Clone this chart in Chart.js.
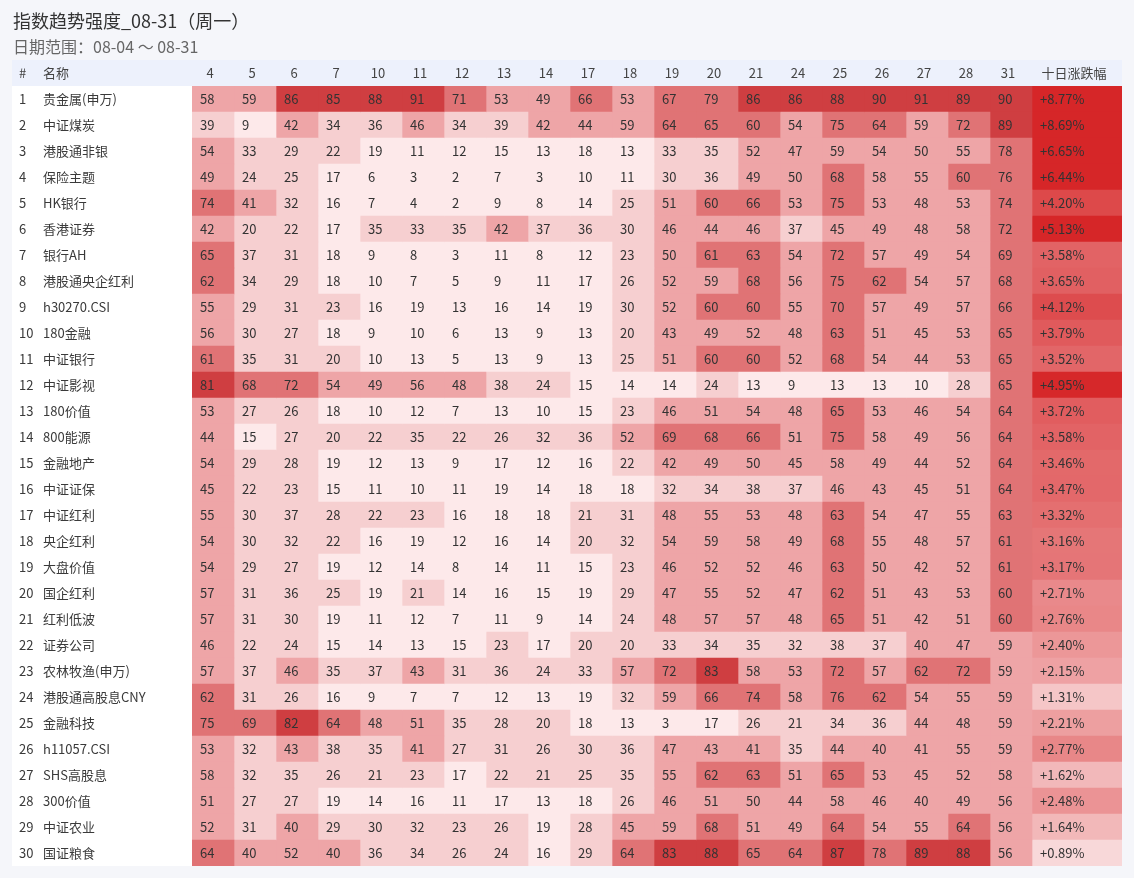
<!DOCTYPE html>
<html lang="zh-CN">
<head>
<meta charset="utf-8">
<title>指数趋势强度_08-31（周一）</title>
<script src="https://cdn.jsdelivr.net/npm/chart.js@4/dist/chart.umd.min.js"></script>
<style>
  html, body { margin: 0; padding: 0; background: #f5f6fa; }
  #wrap { width: 1134px; height: 878px; }
</style>
</head>
<body>
<div id="wrap"><canvas id="heat" width="1134" height="878"></canvas></div>
<script>
// column headers (trading days of August)
const dayLabels = ["4", "5", "6", "7", "10", "11", "12", "13", "14", "17",
                   "18", "19", "20", "21", "24", "25", "26", "27", "28", "31"];
const changeHeader = "十日涨跌幅";

const indexNames = [
  "贵金属(申万)", "中证煤炭", "港股通非银", "保险主题", "HK银行",
  "香港证券", "银行AH", "港股通央企红利", "h30270.CSI", "180金融",
  "中证银行", "中证影视", "180价值", "800能源", "金融地产",
  "中证证保", "中证红利", "央企红利", "大盘价值", "国企红利",
  "红利低波", "证券公司", "农林牧渔(申万)", "港股通高股息CNY", "金融科技",
  "h11057.CSI", "SHS高股息", "300价值", "中证农业", "国证粮食"
];

// trend strength per index, one row per index, one value per day
const trendScores = [
  [58, 59, 86, 85, 88, 91, 71, 53, 49, 66, 53, 67, 79, 86, 86, 88, 90, 91, 89, 90],
  [39, 9, 42, 34, 36, 46, 34, 39, 42, 44, 59, 64, 65, 60, 54, 75, 64, 59, 72, 89],
  [54, 33, 29, 22, 19, 11, 12, 15, 13, 18, 13, 33, 35, 52, 47, 59, 54, 50, 55, 78],
  [49, 24, 25, 17, 6, 3, 2, 7, 3, 10, 11, 30, 36, 49, 50, 68, 58, 55, 60, 76],
  [74, 41, 32, 16, 7, 4, 2, 9, 8, 14, 25, 51, 60, 66, 53, 75, 53, 48, 53, 74],
  [42, 20, 22, 17, 35, 33, 35, 42, 37, 36, 30, 46, 44, 46, 37, 45, 49, 48, 58, 72],
  [65, 37, 31, 18, 9, 8, 3, 11, 8, 12, 23, 50, 61, 63, 54, 72, 57, 49, 54, 69],
  [62, 34, 29, 18, 10, 7, 5, 9, 11, 17, 26, 52, 59, 68, 56, 75, 62, 54, 57, 68],
  [55, 29, 31, 23, 16, 19, 13, 16, 14, 19, 30, 52, 60, 60, 55, 70, 57, 49, 57, 66],
  [56, 30, 27, 18, 9, 10, 6, 13, 9, 13, 20, 43, 49, 52, 48, 63, 51, 45, 53, 65],
  [61, 35, 31, 20, 10, 13, 5, 13, 9, 13, 25, 51, 60, 60, 52, 68, 54, 44, 53, 65],
  [81, 68, 72, 54, 49, 56, 48, 38, 24, 15, 14, 14, 24, 13, 9, 13, 13, 10, 28, 65],
  [53, 27, 26, 18, 10, 12, 7, 13, 10, 15, 23, 46, 51, 54, 48, 65, 53, 46, 54, 64],
  [44, 15, 27, 20, 22, 35, 22, 26, 32, 36, 52, 69, 68, 66, 51, 75, 58, 49, 56, 64],
  [54, 29, 28, 19, 12, 13, 9, 17, 12, 16, 22, 42, 49, 50, 45, 58, 49, 44, 52, 64],
  [45, 22, 23, 15, 11, 10, 11, 19, 14, 18, 18, 32, 34, 38, 37, 46, 43, 45, 51, 64],
  [55, 30, 37, 28, 22, 23, 16, 18, 18, 21, 31, 48, 55, 53, 48, 63, 54, 47, 55, 63],
  [54, 30, 32, 22, 16, 19, 12, 16, 14, 20, 32, 54, 59, 58, 49, 68, 55, 48, 57, 61],
  [54, 29, 27, 19, 12, 14, 8, 14, 11, 15, 23, 46, 52, 52, 46, 63, 50, 42, 52, 61],
  [57, 31, 36, 25, 19, 21, 14, 16, 15, 19, 29, 47, 55, 52, 47, 62, 51, 43, 53, 60],
  [57, 31, 30, 19, 11, 12, 7, 11, 9, 14, 24, 48, 57, 57, 48, 65, 51, 42, 51, 60],
  [46, 22, 24, 15, 14, 13, 15, 23, 17, 20, 20, 33, 34, 35, 32, 38, 37, 40, 47, 59],
  [57, 37, 46, 35, 37, 43, 31, 36, 24, 33, 57, 72, 83, 58, 53, 72, 57, 62, 72, 59],
  [62, 31, 26, 16, 9, 7, 7, 12, 13, 19, 32, 59, 66, 74, 58, 76, 62, 54, 55, 59],
  [75, 69, 82, 64, 48, 51, 35, 28, 20, 18, 13, 3, 17, 26, 21, 34, 36, 44, 48, 59],
  [53, 32, 43, 38, 35, 41, 27, 31, 26, 30, 36, 47, 43, 41, 35, 44, 40, 41, 55, 59],
  [58, 32, 35, 26, 21, 23, 17, 22, 21, 25, 35, 55, 62, 63, 51, 65, 53, 45, 52, 58],
  [51, 27, 27, 19, 14, 16, 11, 17, 13, 18, 26, 46, 51, 50, 44, 58, 46, 40, 49, 56],
  [52, 31, 40, 29, 30, 32, 23, 26, 19, 28, 45, 59, 68, 51, 49, 64, 54, 55, 64, 56],
  [64, 40, 52, 40, 36, 34, 26, 24, 16, 29, 64, 83, 88, 65, 64, 87, 78, 89, 88, 56]
];

// ten day change in percent
const tenDayChange = [
  8.77, 8.69, 6.65, 6.44, 4.20, 5.13, 3.58, 3.65, 4.12, 3.79,
  3.52, 4.95, 3.72, 3.58, 3.46, 3.47, 3.32, 3.16, 3.17, 2.71,
  2.76, 2.40, 2.15, 1.31, 2.21, 2.77, 1.62, 2.48, 1.64, 0.89
];

const TITLE = "指数趋势强度_08-31（周一）";
const SUBTITLE = "日期范围：08-04 ～ 08-31";
const FONT = "'Noto Sans CJK SC', 'Noto Sans', sans-serif";

// the change column is wider than a day column (90px vs 42px)
const CHANGE_WIDTH = 90 / 42;

function scoreColor(v) {
  if (v >= 80) return "#cf3e41";
  if (v >= 60) return "#e07375";
  if (v >= 40) return "#eea5a7";
  if (v >= 20) return "#f6cfd0";
  return "#fde9ea";
}

function changeColor(v) {
  let lo = Math.min(...tenDayChange);
  let t = Math.max(0, Math.min(1, (v - lo) / (5.0 - lo)));
  let a = [248, 216, 217], b = [214, 38, 40];
  let c = a.map((x, i) => Math.round(x + (b[i] - x) * t));
  return `rgb(${c[0]},${c[1]},${c[2]})`;
}

function fmtChange(v) {
  return (v >= 0 ? "+" : "") + v.toFixed(2) + "%";
}

// one stacked dataset per column, every cell is one unit wide
let datasets = dayLabels.map((day, col) => ({
  label: day,
  data: indexNames.map(() => 1),
  backgroundColor: (ctx) => scoreColor(trendScores[ctx.dataIndex][col]),
  cellText: (row) => String(trendScores[row][col])
}));
datasets.push({
  label: changeHeader,
  data: indexNames.map(() => CHANGE_WIDTH),
  backgroundColor: (ctx) => changeColor(tenDayChange[ctx.dataIndex]),
  cellText: (row) => fmtChange(tenDayChange[row])
});

const tablePlugin = {
  id: "tableDecor",
  beforeDraw(chart) {
    let ctx = chart.ctx, area = chart.chartArea;
    ctx.save();
    ctx.fillStyle = "#f5f6fa";
    ctx.fillRect(0, 0, chart.width, chart.height);
    // header band and white body
    ctx.fillStyle = "#edf1fc";
    ctx.fillRect(12, 60, area.right - 12, area.top - 60);
    ctx.fillStyle = "#ffffff";
    ctx.fillRect(12, area.top, area.right - 12, area.bottom - area.top);

    ctx.textBaseline = "middle";
    ctx.textAlign = "left";
    ctx.fillStyle = "#333333";
    ctx.font = "18px " + FONT;
    ctx.fillText(TITLE, 13, 21);
    ctx.fillStyle = "#666666";
    ctx.font = "16px " + FONT;
    ctx.fillText(SUBTITLE, 13, 47);
    ctx.restore();
  },
  afterDatasetsDraw(chart) {
    let ctx = chart.ctx, area = chart.chartArea;
    let xs = chart.scales.x, ys = chart.scales.y;
    ctx.save();
    ctx.textBaseline = "middle";
    ctx.font = "13px " + FONT;

    // header row
    let hy = (60 + area.top) / 2;
    ctx.fillStyle = "#444444";
    ctx.textAlign = "left";
    ctx.fillText("#", 19, hy);
    ctx.fillText("名称", 43, hy);
    ctx.textAlign = "center";
    dayLabels.forEach((d, i) => {
      ctx.fillText(d, xs.getPixelForValue(i + 0.5) - 3, hy);
    });
    let n = dayLabels.length;
    ctx.fillText(changeHeader, xs.getPixelForValue(n + CHANGE_WIDTH / 2) - 3, hy);

    // row number and name
    ctx.textAlign = "left";
    ctx.fillStyle = "#3a3a3a";
    indexNames.forEach((name, r) => {
      let y = ys.getPixelForValue(r);
      ctx.fillText(String(r + 1), 19, y);
      ctx.fillText(name, 43, y);
    });

    // cell values
    ctx.fillStyle = "#333333";
    chart.data.datasets.forEach((ds, di) => {
      let meta = chart.getDatasetMeta(di);
      meta.data.forEach((bar, r) => {
        let left = Math.min(bar.x, bar.base);
        ctx.fillText(ds.cellText(r), left + 8, bar.y);
      });
    });
    ctx.restore();
  }
};

new Chart(document.getElementById("heat"), {
  type: "bar",
  data: { labels: indexNames, datasets: datasets },
  options: {
    indexAxis: "y",
    responsive: false,
    animation: false,
    devicePixelRatio: 1,
    layout: { padding: { left: 192, top: 86, right: 12, bottom: 12 } },
    datasets: {
      bar: { categoryPercentage: 1, barPercentage: 1, borderWidth: 0 }
    },
    scales: {
      x: { display: false, stacked: true, min: 0, max: dayLabels.length + CHANGE_WIDTH },
      y: { display: false, stacked: true }
    },
    plugins: {
      legend: { display: false },
      tooltip: { enabled: false },
      title: { display: false }
    }
  },
  plugins: [tablePlugin]
});
</script>
</body>
</html>
